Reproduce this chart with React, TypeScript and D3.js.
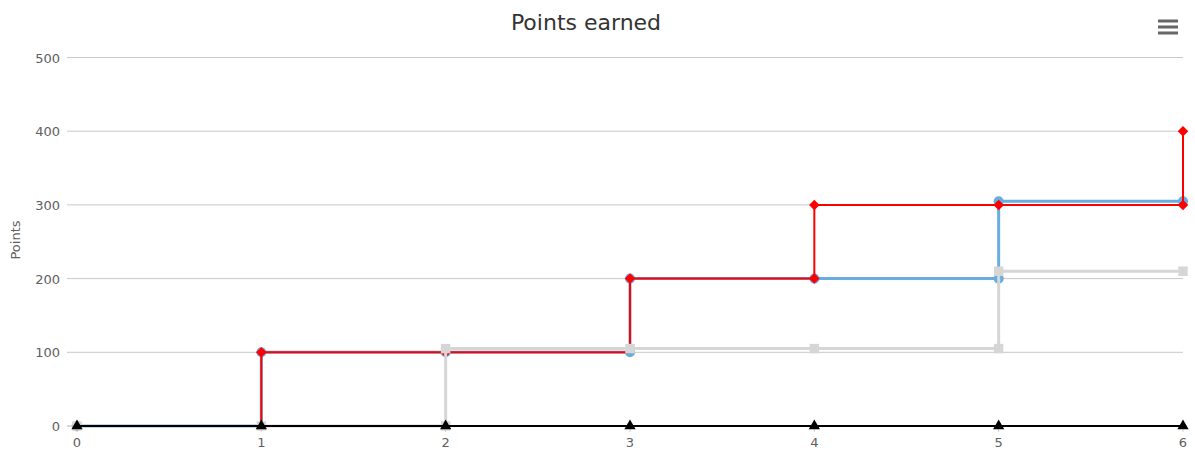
import React from "react";
import * as d3 from "d3";

// chart size
const width = 1195;
const height = 451;
const font = "'DejaVu Sans', Verdana, sans-serif";

// data (some x repeat so the step climbs at that round)
const rounds = [0, 1, 2, 3, 4, 5, 6];
const yTicks = [0, 100, 200, 300, 400, 500];

const blueX = [0, 1, 2, 3, 3, 4, 5, 5, 6];
const blueY = [0, 100, 100, 100, 200, 200, 200, 305, 305];

const redX = [0, 1, 2, 3, 4, 4, 5, 6, 6];
const redY = [0, 100, 100, 200, 200, 300, 300, 300, 400];

const greyX = [0, 1, 2, 2, 3, 4, 5, 5, 6];
const greyY = [0, 0, 0, 105, 105, 105, 105, 210, 210];

const blackX = [0, 1, 2, 3, 4, 5, 6];
const blackY = [0, 0, 0, 0, 0, 0, 0];

// highcharts-like diamond (a square on its tip)
const diamond = { draw(ctx: any, size: number) { const r = Math.sqrt(size / 2); ctx.moveTo(0, -r); ctx.lineTo(r, 0); ctx.lineTo(0, r); ctx.lineTo(-r, 0); ctx.closePath(); } };

const series = [
  { name: "blue", xs: blueX, ys: blueY, color: "#68ade0", lw: 3, symbol: d3.symbolCircle as any, size: 80 },
  { name: "red", xs: redX, ys: redY, color: "#ff0000", lw: 2, symbol: diamond as any, size: 55 },
  { name: "grey", xs: greyX, ys: greyY, color: "#d6d6d6", lw: 3, symbol: d3.symbolSquare as any, size: 90 },
  { name: "black", xs: blackX, ys: blackY, color: "#000000", lw: 2, symbol: d3.symbolTriangle as any, size: 55 },
];

const x = d3.scaleLinear().domain([0, 6]).range([77, 1183]);
const y = d3.scaleLinear().domain([0, 500]).range([426, 57.5]);

const line = d3
  .line<[number, number]>()
  .x((d) => x(d[0]))
  .y((d) => y(d[1]))
  .curve(d3.curveStepAfter);

export default function App() {
  return (
    <svg
      width={width}
      height={height}
      style={{ position: "absolute", left: 0, top: 0, fontFamily: font }}
    >
      <rect width={width} height={height} fill="#fff" />
      <text x={586} y={30} textAnchor="middle" fontSize={22} fill="#333">
        Points earned
      </text>

      {/* menu icon */}
      {[0, 6, 12].map((o) => (
        <line key={o} x1={1158} x2={1178} y1={21 + o} y2={21 + o} stroke="#666" strokeWidth={3} />
      ))}

      {/* grid + y labels */}
      {yTicks.map((t) => (
        <g key={t}>
          <line x1={67} x2={1183} y1={y(t)} y2={y(t)} stroke="#c8c8c8" strokeWidth={1} />
          <text x={60} y={y(t) + 5} textAnchor="end" fontSize={13} fill="#606060">
            {t}
          </text>
        </g>
      ))}
      <text
        transform={`translate(20, ${240}) rotate(-90)`}
        textAnchor="middle"
        fontSize={13}
        fill="#606060"
      >
        Points
      </text>

      {/* x axis */}
      <line x1={67} x2={1183} y1={y(0)} y2={y(0)} stroke="#c0d0e0" />
      {rounds.map((r) => (
        <g key={r}>
          <line x1={x(r)} x2={x(r)} y1={y(0)} y2={y(0) + 6} stroke="#c0d0e0" />
          <text x={x(r)} y={447} textAnchor="middle" fontSize={13} fill="#606060">
            {r}
          </text>
        </g>
      ))}

      {series.map((s) => {
        const pts = s.xs.map((v, i) => [v, s.ys[i]] as [number, number]);
        const sym = d3.symbol().type(s.symbol).size(s.size)();
        return (
          <g key={s.name}>
            <path d={line(pts) || ""} fill="none" stroke={s.color} strokeWidth={s.lw} />
            {pts.map((p, i) => (
              <path
                key={i}
                d={sym || ""}
                transform={`translate(${x(p[0])}, ${y(p[1])})`}
                fill={s.color}
              />
            ))}
          </g>
        );
      })}
    </svg>
  );
}
